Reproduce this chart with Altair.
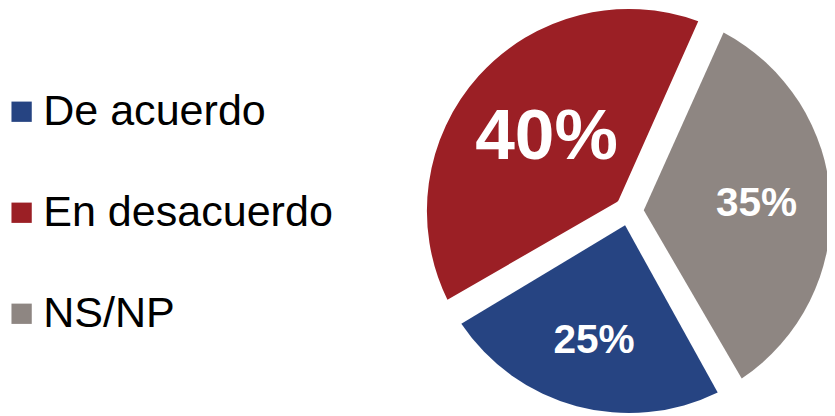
import math
import altair as alt
import pandas as pd

categories = ["De acuerdo", "En desacuerdo", "NS/NP"]
values = [25, 40, 35]
labels = ["25%", "40%", "35%"]
colors = ["#264482", "#9B1F25", "#8E8682"]

df = pd.DataFrame({"category": categories, "value": values, "label": labels})

FONT = "Liberation Sans"
CX, CY = 627, 203
start = math.radians(150)
theta_scale = alt.Scale(range=[start, start + 2 * math.pi])

base = alt.Chart(df).encode(
    theta=alt.Theta("value:Q", stack=True, scale=theta_scale),
    order=alt.Order("category:N", sort="ascending"),
)

pie = base.mark_arc(outerRadius=204, innerRadius=15, padAngle=0.137).encode(
    color=alt.Color(
        "category:N",
        scale=alt.Scale(domain=categories, range=colors),
        legend=alt.Legend(
            orient="none", legendX=-8, legendY=81, title=None,
            symbolType="square", symbolSize=420, symbolStrokeWidth=0,
            labelFontSize=43.5, labelFont=FONT, labelColor="#000000",
            rowPadding=57, labelOffset=0, padding=0, labelLimit=500,
        ),
    ),
    x=alt.value(CX),
    y=alt.value(CY),
)

text_specs = [("En desacuerdo", 112, 72), ("NS/NP", 129, 41), ("De acuerdo", 136, 41)]
texts = []
for cat, r, fs in text_specs:
    texts.append(
        base.mark_text(
            radius=r, fontSize=fs, fontWeight="bold", color="#ffffff", font=FONT,
            align="center", baseline="middle",
        ).encode(
            text=alt.condition(f"datum.category == '{cat}'", "label:N", alt.value("")),
            x=alt.value(CX),
            y=alt.value(CY),
        )
    )

chart = alt.layer(pie, *texts).properties(
    width=827, height=408, padding=0, background="#ffffff",
    autosize=alt.AutoSizeParams(type="none"),
).configure_view(strokeWidth=0)

chart.save("out.html", embed_options={"renderer": "svg", "actions": False})
